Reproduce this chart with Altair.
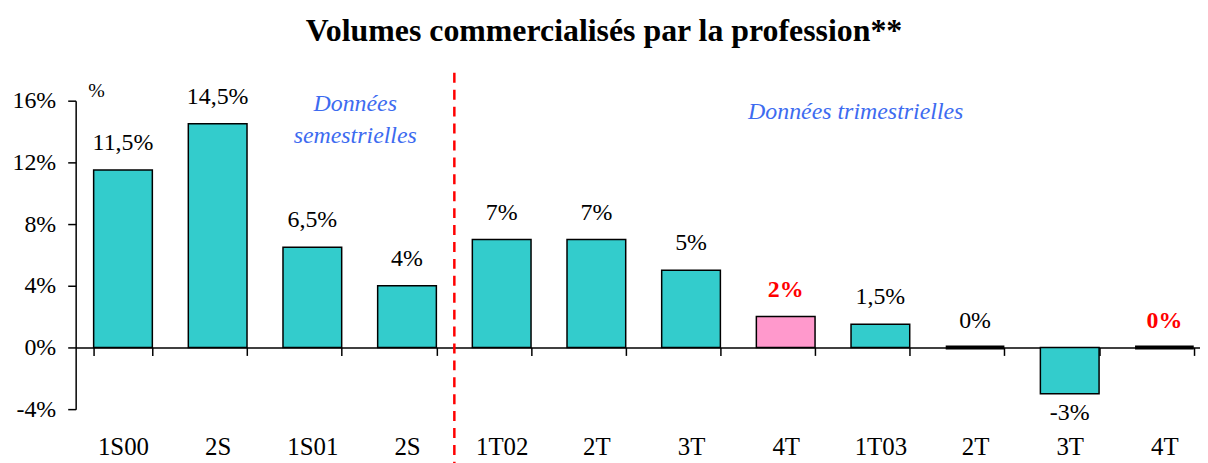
import json
import altair as alt
import pandas as pd

# ---- data ----
categories = ["1S00", "2S", "1S01", "2S", "1T02", "2T", "3T", "4T", "1T03", "2T", "3T", "4T"]
values = [11.5, 14.5, 6.5, 4, 7, 7, 5, 2, 1.5, 0, -3, 0]
pink_bars = [7]            # index of the pink bar
red_labels = [7, 11]       # indices whose value label is red & bold
y_ticks = [-4, 0, 4, 8, 12, 16]
split_after = 3            # dashed line between index 3 and 4

W = 1130
H = 310
P_IN, P_OUT, ALIGN = 0.38, 0.128, 0.742
step = W / (len(categories) - P_IN + 2 * P_OUT)

labels = [(f"{v:g}".replace(".", ",") + "%") for v in values]
df = pd.DataFrame({
    "idx": list(range(len(categories))),
    "value": values,
    "label": labels,
    "pos": [max(v, 0) for v in values],
    "pink": [i in pink_bars for i in range(len(categories))],
    "red": [i in red_labels for i in range(len(categories))],
})

serif = "Liberation Serif"
label_expr = json.dumps(categories) + "[datum.value]"

x_scale = alt.Scale(paddingInner=P_IN, paddingOuter=P_OUT, align=ALIGN)
x_enc = alt.X(
    "idx:O",
    scale=x_scale,
    axis=alt.Axis(
        orient="bottom", offset=-62, title=None, labelAngle=0,
        labelExpr=label_expr, tickBand="extent", tickSize=8, tickWidth=1.5,
        tickColor="black", domainColor="black", domainWidth=1.5,
        labelPadding=80, labelFont=serif, labelFontSize=25, labelColor="black",
    ),
)
y_scale = alt.Scale(domain=[-4, 16], nice=False, zero=True)
y_axis = alt.Axis(
    values=y_ticks, title=None, grid=False, labelExpr="datum.value + '%'",
    tickSize=8, tickWidth=1.5, tickColor="black", domainColor="black",
    domainWidth=1.5, labelPadding=12, labelFont=serif, labelFontSize=24,
    labelColor="black",
)

base = alt.Chart(df)

bars = base.mark_bar(stroke="black").encode(
    x=x_enc,
    y=alt.Y("value:Q", scale=y_scale, axis=y_axis),
    y2=alt.datum(0),
    fill=alt.condition("datum.pink", alt.value("#FF99CC"), alt.value("#33CCCC")),
    strokeWidth=alt.condition("datum.value == 0", alt.value(4), alt.value(1.5)),
)

pos_labels = base.transform_filter("datum.value >= 0 && !datum.red").mark_text(
    font=serif, fontSize=24, baseline="alphabetic", dy=-20, color="black"
).encode(x="idx:O", y=alt.Y("pos:Q", scale=y_scale), text="label:N")

red_lbls = base.transform_filter("datum.red").mark_text(
    font=serif, fontSize=24, fontWeight="bold", baseline="alphabetic", dy=-20, color="#FF0000"
).encode(x="idx:O", y=alt.Y("pos:Q", scale=y_scale), text="label:N")

neg_labels = base.transform_filter("datum.value < 0").mark_text(
    font=serif, fontSize=24, baseline="alphabetic", dy=26, color="black"
).encode(x="idx:O", y=alt.Y("value:Q", scale=y_scale), text="label:N")

split = alt.Chart(pd.DataFrame({"idx": [split_after]})).mark_rule(
    color="#FF0000", strokeDash=[10, 7], strokeWidth=2.5, xOffset=step / 2
).encode(x="idx:O", y=alt.value(-28), y2=alt.value(365))

annot = pd.DataFrame({
    "text": ["Données", "semestrielles", "Données trimestrielles"],
    "px": [281, 281, 784],
    "py": [3, 36, 11],
})
notes = alt.Chart(annot).mark_text(
    font=serif, fontSize=24, fontStyle="italic", color="#3D6BF0", baseline="middle"
).encode(x=alt.X("px:Q", scale=None), y=alt.Y("py:Q", scale=None), text="text:N")

unit = alt.Chart(pd.DataFrame({"t": ["%"]})).mark_text(
    font=serif, fontSize=20, color="black", baseline="middle"
).encode(x=alt.value(21), y=alt.value(-10), text="t:N")

chart = alt.layer(bars, pos_labels, red_lbls, neg_labels, split, notes, unit).properties(
    width=W, height=H,
    padding={"left": 68, "top": 92, "right": 0, "bottom": 55},
    autosize=alt.AutoSizeParams(type="none"),
    title=alt.TitleParams(
        "Volumes commercialisés par la profession**", font=serif, fontSize=32,
        fontWeight="bold", color="black", anchor="middle", dx=-34, offset=24,
    ),
).configure_view(stroke=None)

chart.save("out.html", embed_options={"renderer": "svg", "actions": False})
